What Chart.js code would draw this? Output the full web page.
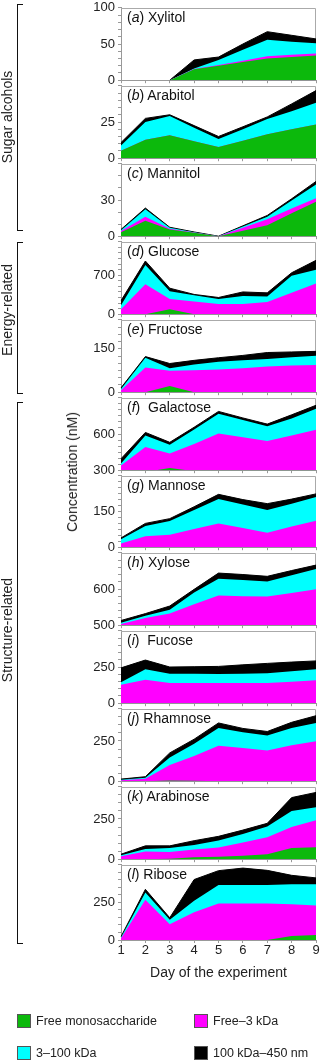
<!DOCTYPE html>
<html>
<head>
<meta charset="utf-8">
<script src="https://cdn.jsdelivr.net/npm/chart.js@4.4.1/dist/chart.umd.min.js"></script>
<style>
  html, body { margin: 0; padding: 0; background: #fff; }
  body { width: 320px; height: 1060px; overflow: hidden; position: relative;
         font-family: "Liberation Sans", Arial, Helvetica, sans-serif; color: #222; }
  canvas { position: absolute; left: 0; }
  .ptitle { position: absolute; left: 127px; font-size: 14px; line-height: 16px; white-space: pre; color: #111; }
  .vlabel { position: absolute; font-size: 14px; white-space: nowrap; color: #222;
            transform: translate(-50%, -50%) rotate(-90deg); }
  .bracket { position: absolute; left: 17px; width: 6px; border-left: 1.6px solid #111;
             border-top: 1.6px solid #111; border-bottom: 1.6px solid #111; box-sizing: border-box; }
  .leg { position: absolute; font-size: 12.5px; line-height: 14px; white-space: nowrap; color: #222; }
  .leg span.box { position: absolute; left: 0; top: 0; width: 14px; height: 14px; box-sizing: border-box; border: 1px solid #555; }
  .leg span.txt { position: absolute; left: 19px; top: 0; }
</style>
</head>
<body>
<script>
// ---------- DATA ----------
const days = ['1', '2', '3', '4', '5', '6', '7', '8', '9'];
const fractionNames = ['Free monosaccharide', 'Free\u20133 kDa', '3\u2013100 kDa', '100 kDa\u2013450 nm'];
const panelLetters = ['a', 'b', 'c', 'd', 'e', 'f', 'g', 'h', 'i', 'j', 'k', 'l'];
const sugarNames = ['Xylitol', 'Arabitol', 'Mannitol', 'Glucose', 'Fructose', 'Galactose',
                    'Mannose', 'Xylose', 'Fucose', 'Rhamnose', 'Arabinose', 'Ribose'];
const groupNames = ['Sugar alcohols', 'Energy-related', 'Structure-related'];
const yAxisTitle = 'Concentration (nM)';
const xAxisTitle = 'Day of the experiment';

// cumulative concentrations (nM): free mono <= free-3 kDa <= 3-100 kDa <= 100 kDa-450 nm
const xylitolMono  = [0, 0, 0, 15, 20, 25, 30, 32, 34];
const xylitolSmall = [0, 0, 0, 15.5, 21, 27, 33, 35, 37];
const xylitolMid   = [0, 0, 0, 16, 28, 42, 56, 53, 51];
const xylitolLarge = [0, 0, 0, 28, 32, 50, 67, 62, 57];

const arabitolMono  = [5.2, 12.7, 15.8, 11.7, 7.7, 12, 16.5, 20, 23.3];
const arabitolSmall = [5.2, 12.7, 15.8, 11.7, 7.7, 12, 16.5, 20, 23.3];
const arabitolMid   = [8.8, 25, 29.2, 21, 13.3, 20, 27, 32.5, 38.3];
const arabitolLarge = [10.8, 27.5, 30, 22.5, 15, 21.7, 28.5, 37.5, 46.7];

const mannitolMono  = [3.3, 12.8, 5.6, 2.8, 0, 4.5, 9, 19, 28.5];
const mannitolSmall = [4.4, 16.2, 6.2, 3, 0, 7, 14.1, 23, 31.5];
const mannitolMid   = [5, 22.3, 6.9, 3.2, 0, 8.1, 16.2, 29.5, 42.8];
const mannitolLarge = [5.6, 23.3, 7.4, 3.5, 0, 8.6, 17.2, 31, 45.4];

const glucoseMono  = [0, 0, 89, 0, 0, 0, 0, 0, 0];
const glucoseSmall = [89, 539, 272, 228, 183, 183, 217, 383, 550];
const glucoseMid   = [161, 883, 411, 339, 272, 328, 317, 689, 800];
const glucoseLarge = [244, 955, 467, 355, 300, 400, 383, 744, 967];

const fructoseMono  = [0, 0, 21.6, 0, 0, 0, 0, 0, 0];
const fructoseSmall = [6.5, 85, 74, 75.5, 78, 83, 88.5, 92, 94];
const fructoseMid   = [11, 119, 83, 96, 105, 110, 115, 121, 126];
const fructoseLarge = [15, 123, 99, 110, 119, 127, 137, 139, 141];

const galactoseMono  = [0, 285, 318, 292, 0, 0, 0, 0, 0];
const galactoseSmall = [338, 492, 438, 518, 605, 574, 541, 587, 636];
const galactoseMid   = [356, 587, 510, 638, 767, 715, 664, 728, 810];
const galactoseLarge = [395, 613, 531, 656, 787, 733, 682, 759, 838];

const mannoseMono  = [0, 0, 0, 0, 0, 0, 0, 0, 0];
const mannoseSmall = [16, 46, 52, 76, 100, 81, 61, 87, 111];
const mannoseMid   = [33, 89, 110, 156, 202, 179, 156, 183, 211];
const mannoseLarge = [39, 100, 120, 170, 222, 200, 183, 202, 224];

const xyloseMono  = [0, 0, 0, 0, 0, 0, 0, 0, 0];
const xyloseSmall = [503, 520, 532, 558, 582, 580, 579, 589, 599];
const xyloseMid   = [507, 526, 543, 590, 628, 625, 621, 638, 655];
const xyloseLarge = [513, 532, 553, 599, 644, 640, 635, 651, 666];

const fucoseMono  = [0, 0, 0, 0, 0, 0, 0, 0, 0];
const fucoseSmall = [128, 162, 139, 139, 139, 139, 139, 148, 158];
const fucoseMid   = [145, 235, 204, 203, 202, 204, 206, 220, 235];
const fucoseLarge = [244, 298, 250, 252, 254, 265, 275, 284, 292];

const rhamnoseMono  = [0, 0, 5, 3, 0, 0, 0, 0, 0];
const rhamnoseSmall = [6, 15, 100, 157, 220, 206, 191, 223, 248];
const rhamnoseMid   = [9, 21, 148, 233, 331, 305, 284, 331, 362];
const rhamnoseLarge = [13, 28, 176, 261, 362, 328, 309, 366, 407];

const arabinoseMono  = [0, 0, 3, 12, 15, 21, 31, 69, 75];
const arabinoseSmall = [19, 48, 44, 60, 73, 104, 137, 200, 242];
const arabinoseMid   = [25, 63, 69, 88, 117, 156, 204, 300, 323];
const arabinoseLarge = [31, 83, 83, 115, 142, 181, 223, 383, 415];

const riboseMono  = [0, 0, 0, 0, 0, 0, 0, 27, 33];
const riboseSmall = [11, 267, 104, 185, 243, 243, 243, 237, 230];
const riboseMid   = [17, 315, 135, 261, 365, 365, 365, 370, 370];
const riboseLarge = [22, 337, 148, 402, 461, 478, 463, 430, 413];

// axis ranges and labelled ticks per panel
const axisMin  = [0, 0, 0, 0, 0, 300, 0, 500, 0, 0, 0, 0];
const axisMax  = [100, 50, 60, 1300, 250, 900, 300, 700, 500, 450, 450, 500];
const axisStep = [10, 5, 10, 100, 25, 50, 25, 20, 50, 50, 50, 50];
const tickLabelValues = [[0, 50, 100], [0, 25], [0, 30], [0, 700], [0, 150], [300, 600],
                         [0, 150], [500, 600], [0, 250], [0, 250], [0, 250], [0, 250]];

// ---------- STYLE / LAYOUT ----------
const fractionColors = ['#0cb90c', '#ff00ff', '#00ffff', '#000000'];
Chart.defaults.font.family = '"Liberation Sans", Arial, Helvetica, sans-serif';

const panelSeries = [
  [xylitolMono, xylitolSmall, xylitolMid, xylitolLarge],
  [arabitolMono, arabitolSmall, arabitolMid, arabitolLarge],
  [mannitolMono, mannitolSmall, mannitolMid, mannitolLarge],
  [glucoseMono, glucoseSmall, glucoseMid, glucoseLarge],
  [fructoseMono, fructoseSmall, fructoseMid, fructoseLarge],
  [galactoseMono, galactoseSmall, galactoseMid, galactoseLarge],
  [mannoseMono, mannoseSmall, mannoseMid, mannoseLarge],
  [xyloseMono, xyloseSmall, xyloseMid, xyloseLarge],
  [fucoseMono, fucoseSmall, fucoseMid, fucoseLarge],
  [rhamnoseMono, rhamnoseSmall, rhamnoseMid, rhamnoseLarge],
  [arabinoseMono, arabinoseSmall, arabinoseMid, arabinoseLarge],
  [riboseMono, riboseSmall, riboseMid, riboseLarge]
];

const framePlugin = {
  id: 'frame',
  beforeDatasetsDraw(chart) {
    const { ctx, chartArea: a } = chart;
    ctx.save();
    ctx.strokeStyle = '#aaa';
    ctx.lineWidth = 1;
    ctx.beginPath();
    ctx.moveTo(a.left, Math.round(a.top) + 0.5);
    ctx.lineTo(Math.round(a.right) - 0.5, Math.round(a.top) + 0.5);
    ctx.lineTo(Math.round(a.right) - 0.5, a.bottom);
    ctx.stroke();
    ctx.restore();
  }
};

const tops = [];
for (let i = 0; i <= 12; i++) tops.push(Math.round(5 + i * 77.92));

for (let i = 0; i < 12; i++) {
  const isLast = i === 11;
  const h = tops[i + 1] - tops[i];
  const padT = 8, padB = isLast ? 0 : 8, xH = isLast ? 50 : 0;
  const cv = document.createElement('canvas');
  cv.width = 320;
  cv.height = padT + h + padB + xH;
  cv.style.top = (tops[i] - padT) + 'px';
  document.body.appendChild(cv);
  const labels = tickLabelValues[i];
  new Chart(cv, {
    type: 'line',
    data: {
      labels: days,
      datasets: panelSeries[i].map((vals, k) => ({
        label: fractionNames[k],
        data: vals,
        backgroundColor: fractionColors[k],
        borderColor: fractionColors[k],
        borderWidth: k === 3 ? 1 : 0,
        segment: {
          borderColor: (c) => (c.p0.parsed.y === 0 && c.p1.parsed.y === 0) ? 'rgba(0,0,0,0)' : undefined
        },
        fill: 'origin',
        pointRadius: 0,
        tension: 0
      }))
    },
    options: {
      responsive: false,
      animation: false,
      events: [],
      layout: { padding: { top: padT, bottom: padB, left: 0, right: 4 } },
      plugins: { legend: { display: false }, tooltip: { enabled: false } },
      scales: {
        x: {
          type: 'category',
          offset: false,
          grid: { display: true, drawOnChartArea: false, drawTicks: true, tickLength: 3, color: '#999' },
          border: { display: true, color: '#999' },
          ticks: { display: isLast, padding: 0, font: { size: 13 }, color: '#222', maxRotation: 0, autoSkip: false },
          title: { display: isLast, text: xAxisTitle, font: { size: 14 }, color: '#222', padding: { top: 0, bottom: 8 } },
          afterFit(s) { s.height = xH; }
        },
        y: {
          min: axisMin[i],
          max: axisMax[i],
          ticks: {
            stepSize: axisStep[i], autoSkip: false, padding: 3, font: { size: 13 }, color: '#222',
            callback: (v) => labels.includes(v) ? String(v) : ''
          },
          grid: { display: true, drawOnChartArea: false, drawTicks: true, tickLength: 3, color: '#999' },
          border: { display: true, color: '#999' },
          afterFit(s) { s.width = 121; }
        }
      }
    },
    plugins: [framePlugin]
  });

  const t = document.createElement('div');
  t.className = 'ptitle';
  t.style.top = (tops[i] + 4) + 'px';
  const gap = (panelLetters[i] === 'f' || panelLetters[i] === 'i') ? '  ' : ' ';
  t.innerHTML = '(<i>' + panelLetters[i] + '</i>)' + gap + sugarNames[i];
  document.body.appendChild(t);
}

// group brackets and labels
const bracketBoxes = [[4, 231], [242, 394], [402, 944]];
const groupCenters = [117, 310, 630];
groupNames.forEach((name, g) => {
  const b = document.createElement('div');
  b.className = 'bracket';
  b.style.top = bracketBoxes[g][0] + 'px';
  b.style.height = (bracketBoxes[g][1] - bracketBoxes[g][0]) + 'px';
  document.body.appendChild(b);
  const l = document.createElement('div');
  l.className = 'vlabel';
  l.style.left = '7px';
  l.style.top = groupCenters[g] + 'px';
  l.textContent = name;
  document.body.appendChild(l);
});

const yl = document.createElement('div');
yl.className = 'vlabel';
yl.style.left = '72px';
yl.style.top = '472px';
yl.textContent = yAxisTitle;
document.body.appendChild(yl);

// legend
const legPos = [[17, 1014], [194, 1014], [17, 1046], [194, 1046]];
fractionNames.forEach((name, k) => {
  const d = document.createElement('div');
  d.className = 'leg';
  d.style.left = legPos[k][0] + 'px';
  d.style.top = legPos[k][1] + 'px';
  d.innerHTML = '<span class="box" style="background:' + fractionColors[k] + '"></span><span class="txt"></span>';
  d.querySelector('.txt').textContent = name;
  document.body.appendChild(d);
});
</script>
</body>
</html>
